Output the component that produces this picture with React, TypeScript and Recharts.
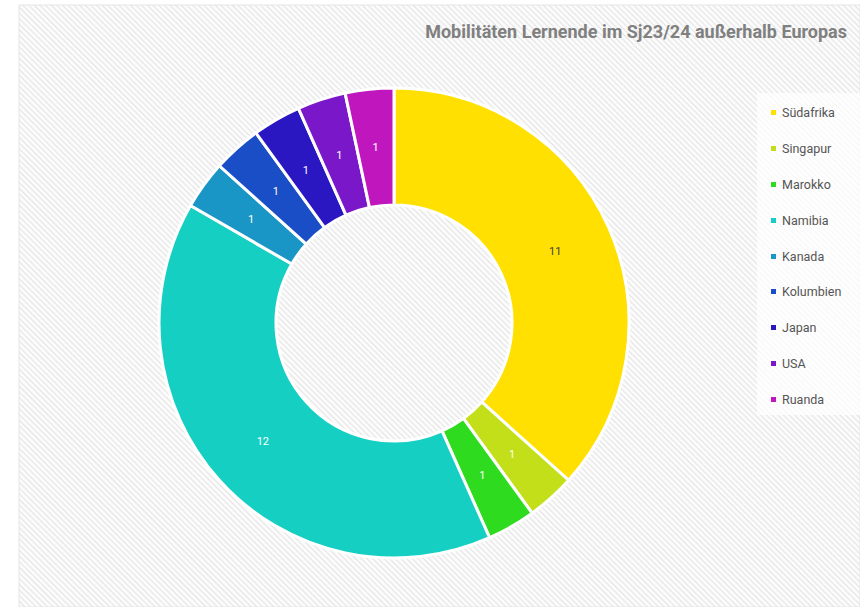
import React from "react";
import { PieChart, Pie, Cell, Legend } from "recharts";

const countries = ["Südafrika", "Singapur", "Marokko", "Namibia", "Kanada", "Kolumbien", "Japan", "USA", "Ruanda"];
const counts = [11, 1, 1, 12, 1, 1, 1, 1, 1];
const colors = ["#FFE000", "#C2DF1A", "#2EDB1E", "#16CFC3", "#1A96C6", "#1A4EC6", "#2A17C2", "#7A17C9", "#C016BE"];
const title = "Mobilitäten Lernende im Sj23/24 außerhalb Europas";

const data = countries.map((name, i) => ({ name, value: counts[i], color: colors[i] }));

const RAD = Math.PI / 180;
const renderLabel = (props: any) => {
  const { cx, cy, midAngle, innerRadius, outerRadius, value, index } = props;
  const r = (innerRadius + outerRadius) / 2;
  const x = cx + r * Math.cos(-midAngle * RAD);
  const y = cy + r * Math.sin(-midAngle * RAD);
  const fill = index === 0 ? "#404040" : "#ffffff";
  return (
    <text x={x} y={y} fill={fill} textAnchor="middle" dominantBaseline="central" fontSize={11} fontFamily="Roboto, sans-serif">
      {value}
    </text>
  );
};

const LegendContent = () => {
  return (
    <div style={{ width: 103, height: 322, background: "rgba(255,255,255,0.7)", boxSizing: "border-box", paddingTop: 2 }}>
      {data.map((d, i) => (
        <div key={i} style={{ display: "flex", alignItems: "center", height: 35.8, marginLeft: 14 }}>
          <span style={{ display: "inline-block", width: 5, height: 5, background: d.color, marginRight: 6 }} />
          <span style={{ fontFamily: "Roboto, sans-serif", fontSize: 12.5, color: "#555555" }}>{d.name}</span>
        </div>
      ))}
    </div>
  );
};

export default function App() {
  return (
    <div style={{ position: "absolute", left: 0, top: 0, width: 860, height: 607, background: "#ffffff", overflow: "hidden" }}>
      <svg width={860} height={607} style={{ position: "absolute", left: 0, top: 0 }}>
        <defs>
          <pattern id="hatch" patternUnits="userSpaceOnUse" width={4} height={4} patternTransform="rotate(-45)">
            <rect width={4} height={4} fill="#fbfbfb" />
            <line x1={0} y1={0} x2={0} y2={4} stroke="#d9d9d9" strokeWidth={1.4} />
          </pattern>
        </defs>
        <rect x={19} y={5} width={841} height={602} fill="url(#hatch)" stroke="#e6e6e6" strokeWidth={1} />
      </svg>
      <div
        style={{
          position: "absolute",
          right: 13,
          top: 21,
          fontFamily: "Roboto, sans-serif",
          fontWeight: 700,
          fontSize: 18,
          color: "#808080",
          whiteSpace: "nowrap",
        }}
      >
        {title}
      </div>
      <div style={{ position: "absolute", left: 0, top: 0 }}>
        <PieChart width={860} height={607} margin={{ top: 0, right: 0, bottom: 0, left: 0 }}>
          <Pie
            data={data}
            dataKey="value"
            nameKey="name"
            cx={394}
            cy={323}
            innerRadius={118}
            outerRadius={235}
            startAngle={90}
            endAngle={-270}
            stroke="#ffffff"
            strokeWidth={3}
            label={renderLabel}
            labelLine={false}
            isAnimationActive={false}
          >
            {data.map((d, i) => (
              <Cell key={i} fill={d.color} />
            ))}
          </Pie>
          <Legend
            layout="vertical"
            content={<LegendContent />}
            wrapperStyle={{ position: "absolute", left: 757, top: 93, width: 103, height: 322 }}
          />
        </PieChart>
      </div>
    </div>
  );
}
